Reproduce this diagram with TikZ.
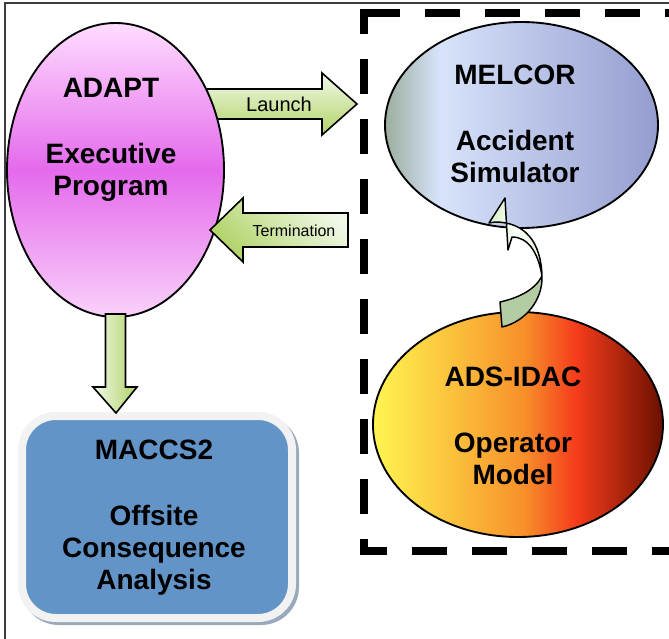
\documentclass[tikz,border=0pt]{standalone}
\usepackage{fontspec}
\setmainfont{Liberation Sans}
\usetikzlibrary{shapes.geometric}
\definecolor{adapttop}{HTML}{FFDDFF}
\definecolor{adaptmid}{HTML}{E46AEC}
\definecolor{adaptbot}{HTML}{FAD2FA}
\definecolor{melcorleft}{HTML}{9AAE9C}
\definecolor{melcorlight}{HTML}{D8E3FB}
\definecolor{melcorright}{HTML}{949DCF}
\definecolor{idacyellow}{HTML}{FFF552}
\definecolor{idacamber}{HTML}{FBC23C}
\definecolor{idacorange}{HTML}{F7902A}
\definecolor{idacred}{HTML}{F53C1C}
\definecolor{idacdark}{HTML}{6A1000}
\definecolor{maccsblue}{HTML}{6394C8}
\definecolor{maccsrim}{HTML}{F2F2F2}
\definecolor{maccsshadow}{HTML}{97A9BA}
\definecolor{arrowlight}{HTML}{F2F9EA}
\definecolor{arrowgreen}{HTML}{B0D366}
\definecolor{curvelight}{HTML}{D6EFC8}
\definecolor{curvewhite}{HTML}{FBFFF8}
\definecolor{curvesage}{HTML}{B3CCA4}
\definecolor{framegray}{HTML}{3C3C3C}
\pgfdeclarehorizontalshading{melcorshade}{100bp}{color(0bp)=(melcorleft); color(25bp)=(melcorleft); color(35bp)=(melcorlight); color(75bp)=(melcorright); color(100bp)=(melcorright)}
\pgfdeclarehorizontalshading{idacshade}{100bp}{color(0bp)=(idacyellow); color(25bp)=(idacyellow); color(38.5bp)=(idacamber); color(51bp)=(idacorange); color(60bp)=(idacred); color(75bp)=(idacdark); color(100bp)=(idacdark)}

\begin{document}
\begin{tikzpicture}[x=0.75pt,y=-0.75pt,
    bubble/.style={ellipse,draw=black,line width=1.4pt,inner sep=0pt},
    bigtext/.style={font=\fontsize{21}{24}\selectfont\bfseries,align=center,inner sep=0pt,anchor=north},
    blockarrow/.style={draw=black,line width=1.2pt,line join=miter},
    curvearrow/.style={draw=black,line width=1.1pt,line join=round}]
        \useasboundingbox (0,0) rectangle (669,639);
        \clip (0,0) rectangle (669,639);
        % outer frame
        \draw[framegray,line width=1.1pt] (5,639) -- (5,3) -- (669,3);
        % dashed box round the simulators
        \draw[line width=6pt,dash pattern=on 26.25pt off 18.75pt,dash phase=35.25pt] (700,551) -- (364,551) -- (364,9);
        \draw[line width=6pt,dash pattern=on 26.25pt off 18.75pt] (365,13) -- (700,13);
        % launch arrow, tail hidden behind ADAPT
        \coordinate (launch-tail) at (200,104);
        \coordinate (launch-tip) at (357,104);
        \draw[blockarrow,top color=arrowlight,bottom color=arrowgreen]
          (launch-tail) ++(0,-15) -- ++(122,0) -- ++(0,-16) -- (launch-tip)
          -- ++(-35,31) -- ++(0,-16) -- ++(-122,0) -- cycle;
        % MACCS2 box
        \fill[maccsshadow,rounded corners=28.5pt] (21,415) rectangle (299,625);
        \node[draw=maccsrim,line width=6pt,fill=maccsblue,rounded corners=25.5pt,
          minimum width=202.5pt,minimum height=151.5pt] (maccs) at (157,517) {};
        % the three codes
        \node[bubble,minimum width=162.75pt,minimum height=220.5pt,
          top color=adapttop,bottom color=adaptbot,middle color=adaptmid] (adapt) at (115.5,170) {};
        \node[bubble,minimum width=204.75pt,minimum height=154.5pt,shade,shading=melcorshade] (melcor) at (521.5,125) {};
        \node[bubble,minimum width=217.5pt,minimum height=168.75pt,shade,shading=idacshade] (adsidac) at (518,424.5) {};
        % termination arrow
        \coordinate (term-tail) at (348,230);
        \coordinate (term-tip) at (210,230);
        \draw[blockarrow,top color=arrowlight,bottom color=arrowgreen,shading angle=-45]
          (term-tail) ++(0,-17) -- ++(-105,0) -- ++(0,-15) -- (term-tip)
          -- ++(33,32) -- ++(0,-15) -- ++(105,0) -- cycle;
        % down to MACCS2
        \coordinate (down-tail) at (116,314);
        \coordinate (down-tip) at (116,413);
        \draw[blockarrow,left color=arrowlight,right color=arrowgreen]
          (down-tail) ++(-10.5,0) -- ++(0,73) -- ++(-12.5,0) -- (down-tip)
          -- ++(21,-26) -- ++(-11.5,0) -- ++(0,-73) -- cycle;
        % curved arrow ADS-IDAC -> MELCOR
        \coordinate (curve-twist) at (542,276);
        \coordinate (curve-tip) at (505,198);
        \draw[curvearrow,fill=curvesage] (curve-twist) .. controls (535,290) and (518,298) .. (500,302)
          -- (502,327) .. controls (525,322) and (543,300) .. (curve-twist);
        \draw[curvearrow,left color=curvelight,right color=curvelight!60,middle color=curvewhite]
          (curve-tip) -- (489,223) -- (495,222) .. controls (525,222) and (541,242) .. (curve-twist)
          .. controls (538,252) and (528,237) .. (512,237) -- (508,250) -- cycle;
        % texts
        \node[bigtext] (adapt-lbl) at (111,78) {ADAPT\\[25.5pt]Executive\\Program};
        \node[bigtext] (melcor-lbl) at (515,65) {MELCOR\\[25.5pt]Accident\\Simulator};
        \node[bigtext] (adsidac-lbl) at (513,367) {ADS-IDAC\\[25.5pt]Operator\\Model};
        \node[bigtext] (maccs-lbl) at (154,440) {MACCS2\\[25.5pt]Offsite\\Consequence\\Analysis};
        \node[font=\fontsize{15}{18}\selectfont] (launch-lbl) at (279,104.5) {Launch};
        \node[font=\fontsize{12}{14}\selectfont] (term-lbl) at (294,230.5) {Termination};
\end{tikzpicture}
\end{document}
